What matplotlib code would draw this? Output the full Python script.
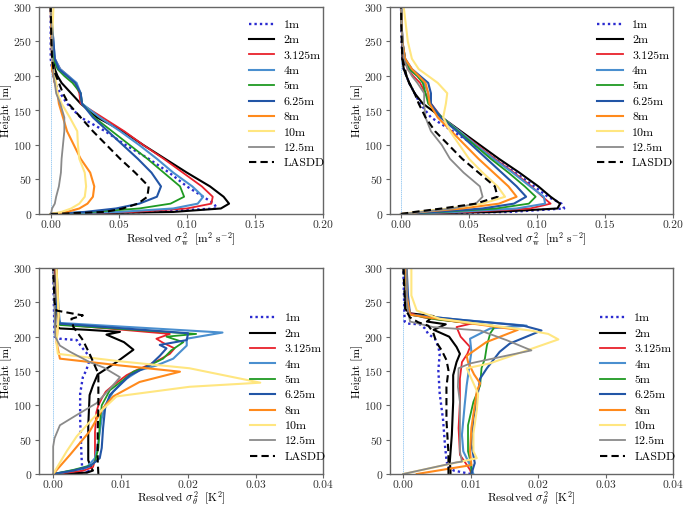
import matplotlib
matplotlib.use("Agg")
import matplotlib.pyplot as plt

plt.rcParams.update({
    "font.family": "serif",
    "font.serif": ["cmr10"],
    "mathtext.fontset": "cm",
    "axes.formatter.use_mathtext": True,
    "font.size": 8.3,
    "axes.unicode_minus": False,
})

# ---------------- data ----------------
labels = ["1m", "2m", "3.125m", "4m", "5m", "6.25m", "8m", "10m", "12.5m", "LASDD"]

# shared height grid for the sigma_w^2 panels (m)
H_TOP = [0, 3, 8, 15, 25, 40, 60, 80, 100, 120, 140, 160, 175, 190, 200, 210, 225, 250, 300]

# top-left panel: resolved sigma_w^2 (m2 s-2)
tl_1m    = [0, 0.07, 0.122, 0.120, 0.112, 0.100, 0.087, 0.072, 0.055, 0.040, 0.022, 0.012, 0.007, 0.003, 0.002, 0.001, 0.0, 0.0, 0.0]
tl_2m    = [0, 0.09, 0.125, 0.131, 0.127, 0.117, 0.100, 0.084, 0.068, 0.053, 0.034, 0.022, 0.015, 0.008, 0.005, 0.003, 0.002, 0.001, 0.0]
tl_3125m = [0, 0.06, 0.100, 0.118, 0.119, 0.111, 0.097, 0.083, 0.068, 0.054, 0.038, 0.022, 0.021, 0.018, 0.013, 0.007, 0.003, 0.001, 0.0]
tl_4m    = [0, 0.05, 0.090, 0.108, 0.112, 0.104, 0.090, 0.078, 0.065, 0.051, 0.036, 0.023, 0.022, 0.019, 0.013, 0.007, 0.003, 0.002, 0.0]
tl_5m    = [0, 0.03, 0.065, 0.088, 0.098, 0.095, 0.083, 0.071, 0.058, 0.045, 0.032, 0.023, 0.022, 0.016, 0.010, 0.005, 0.002, 0.001, 0.0]
tl_625m  = [0, 0.025, 0.048, 0.065, 0.078, 0.081, 0.074, 0.064, 0.053, 0.042, 0.031, 0.023, 0.022, 0.018, 0.012, 0.006, 0.003, 0.002, 0.0]
tl_8m    = [0, 0.012, 0.021, 0.027, 0.031, 0.032, 0.029, 0.022, 0.017, 0.012, 0.009, 0.006, 0.005, 0.003, 0.002, 0.001, 0.001, 0.0005, 0.0]
tl_10m   = [0, 0.008, 0.015, 0.021, 0.025, 0.026, 0.025, 0.021, 0.020, 0.0195, 0.014, 0.008, 0.005, 0.004, 0.003, 0.002, 0.001, 0.001, 0.002]
tl_125m  = [0, 0.0005, 0.001, 0.003, 0.004, 0.006, 0.0075, 0.008, 0.009, 0.010, 0.010, 0.007, 0.004, 0.003, 0.002, 0.002, 0.001, 0.001, 0.0]
tl_lasdd = [0, 0.040, 0.053, 0.064, 0.071, 0.072, 0.062, 0.051, 0.041, 0.031, 0.022, 0.013, 0.009, 0.006, 0.004, 0.002, 0.001, 0.0005, 0.0]

# top-right panel: resolved sigma_w^2 (m2 s-2)
tr_1m    = [0, 0.08, 0.120, 0.118, 0.108, 0.098, 0.084, 0.069, 0.054, 0.038, 0.022, 0.014, 0.010, 0.006, 0.004, 0.002, 0.001, 0.0005, 0.0]
tr_2m    = [0, 0.07, 0.115, 0.117, 0.110, 0.101, 0.087, 0.072, 0.058, 0.044, 0.030, 0.016, 0.010, 0.006, 0.004, 0.002, 0.001, 0.001, 0.0]
tr_3125m = [0, 0.05, 0.095, 0.110, 0.104, 0.096, 0.083, 0.069, 0.056, 0.043, 0.030, 0.022, 0.018, 0.014, 0.009, 0.005, 0.002, 0.001, 0.0]
tr_4m    = [0, 0.04, 0.085, 0.106, 0.105, 0.095, 0.082, 0.068, 0.055, 0.043, 0.030, 0.021, 0.020, 0.017, 0.012, 0.006, 0.003, 0.001, 0.0]
tr_5m    = [0, 0.03, 0.070, 0.094, 0.099, 0.091, 0.079, 0.066, 0.054, 0.042, 0.030, 0.020, 0.018, 0.016, 0.012, 0.006, 0.003, 0.001, 0.0]
tr_625m  = [0, 0.025, 0.060, 0.083, 0.092, 0.085, 0.074, 0.063, 0.052, 0.041, 0.029, 0.022, 0.022, 0.020, 0.014, 0.008, 0.003, 0.001, 0.0]
tr_8m    = [0, 0.015, 0.045, 0.072, 0.085, 0.079, 0.068, 0.057, 0.047, 0.037, 0.027, 0.021, 0.020, 0.018, 0.013, 0.008, 0.003, 0.001, 0.0]
tr_10m   = [0, 0.012, 0.035, 0.060, 0.0765, 0.071, 0.060, 0.050, 0.043, 0.036, 0.031, 0.033, 0.034, 0.027, 0.020, 0.013, 0.008, 0.005, 0.002]
tr_125m  = [0, 0.015, 0.038, 0.055, 0.060, 0.058, 0.046, 0.036, 0.030, 0.022, 0.018, 0.017, 0.017, 0.012, 0.008, 0.005, 0.002, 0.001, 0.0]
tr_lasdd = [0, 0.010, 0.030, 0.055, 0.071, 0.069, 0.057, 0.045, 0.035, 0.025, 0.018, 0.013, 0.010, 0.006, 0.004, 0.003, 0.001, 0.0005, 0.0]

# bottom-left panel: resolved sigma_theta^2 (K2), (value, height) pairs
bl_1m    = [(0, 0), (0.0055, 3), (0.0043, 8), (0.0042, 26), (0.0040, 79), (0.0040, 117), (0.0044, 141), (0.0049, 151), (0.0054, 166), (0.0054, 171), (0.0042, 185), (0.0035, 195), (0.0010, 197), (0.0002, 200), (0.0001, 250), (0, 300)]
bl_2m    = [(0, 0), (0.0050, 2), (0.0059, 5), (0.0056, 10), (0.0052, 20), (0.0052, 70), (0.0054, 115), (0.0059, 129), (0.0066, 145), (0.0094, 163), (0.0119, 181), (0.0105, 192), (0.0079, 203), (0.0099, 207), (0.0050, 210), (0.0010, 212), (0.0003, 216), (0.0004, 250), (0.0003, 300)]
bl_3125m = [(0, 0), (0.0020, 2), (0.0045, 5), (0.0059, 10), (0.0062, 20), (0.0062, 60), (0.0064, 90), (0.0067, 100), (0.0072, 110), (0.0078, 120), (0.0090, 130), (0.0109, 144), (0.0123, 151), (0.0135, 156), (0.0155, 165), (0.0173, 175), (0.0180, 183), (0.0163, 191), (0.0153, 197), (0.0173, 204), (0.0010, 218), (0.0005, 240), (0.0003, 300)]
bl_4m    = [(0, 0), (0.0010, 1.5), (0.0049, 9), (0.0062, 23), (0.0067, 47), (0.0072, 81), (0.0077, 100), (0.0089, 120), (0.0109, 139), (0.0128, 151), (0.0153, 158), (0.0178, 168), (0.0198, 187), (0.0198, 197), (0.0251, 206), (0.0010, 220), (0.0008, 240), (0.0005, 300)]
bl_5m    = [(0, 0), (0.0030, 6), (0.0057, 13), (0.0062, 18), (0.0067, 38), (0.0069, 71), (0.0072, 100), (0.0084, 122), (0.0104, 137), (0.0119, 149), (0.0138, 156), (0.0163, 168), (0.0175, 180), (0.0193, 192), (0.0168, 200), (0.0212, 204), (0.0010, 217), (0.0005, 240), (0.0005, 300)]
bl_625m  = [(0, 0), (0.0030, 5), (0.0054, 11), (0.0069, 23), (0.0072, 38), (0.0074, 67), (0.0077, 96), (0.0084, 115), (0.0099, 130), (0.0114, 144), (0.0143, 158), (0.0158, 172), (0.0168, 183), (0.0158, 188), (0.0198, 195), (0.0200, 205), (0.0010, 219), (0.0005, 240), (0.0005, 300)]
bl_8m    = [(0, 0), (0.0025, 28), (0.0054, 62), (0.0074, 96), (0.0089, 113), (0.0128, 134), (0.0188, 149), (0.0100, 158), (0.0010, 168), (0.0005, 192), (0.0008, 230), (0.0005, 300)]
bl_10m   = [(0, 0), (0.0006, 10), (0.0020, 33), (0.0035, 55), (0.0059, 81), (0.0094, 113), (0.0202, 127), (0.0307, 133), (0.0202, 154), (0.0100, 164), (0.0007, 175), (0.0005, 190), (0.0008, 230), (0.0005, 300)]
bl_125m  = [(0, 0), (0, 40), (0.0002, 52), (0.0010, 71), (0.0035, 86), (0.0064, 103), (0.0085, 125), (0.0099, 141), (0.0075, 155), (0.0054, 163), (0.0025, 178), (0.0010, 187), (0.0003, 200), (0.0002, 250), (0, 300)]
bl_lasdd = [(0.0067, 0), (0.0066, 20), (0.0066, 60), (0.0067, 100), (0.0067, 146), (0.0054, 175), (0.0044, 195), (0.0030, 214), (0.0027, 226), (0.0044, 231), (0.0005, 238), (0.0002, 250), (0, 300)]

# bottom-right panel: resolved sigma_theta^2 (K2), (value, height) pairs
br_1m    = [(0.0100, 0), (0.0090, 2), (0.0075, 5), (0.0066, 10), (0.0064, 21), (0.0062, 40), (0.0059, 79), (0.0054, 117), (0.0052, 151), (0.0054, 175), (0.0052, 185), (0.0047, 197), (0.0037, 204), (0.0032, 212), (0.0025, 218), (0.0007, 219), (0.0002, 222), (0, 300)]
br_2m    = [(0.0070, 0), (0.0070, 5), (0.0069, 18), (0.0072, 57), (0.0074, 105), (0.0074, 144), (0.0079, 163), (0.0084, 175), (0.0079, 185), (0.0068, 200), (0.0045, 210), (0.0063, 218), (0.0035, 222), (0.0045, 230), (0.0010, 234), (0.0003, 240), (0.0003, 300)]
br_3125m = [(0.0101, 0), (0.0099, 6), (0.0091, 18), (0.0084, 28), (0.0082, 67), (0.0084, 105), (0.0084, 139), (0.0087, 163), (0.0095, 175), (0.0099, 185), (0.0085, 200), (0.0079, 214), (0.0101, 219), (0.0030, 228), (0.0008, 235), (0.0005, 260), (0.0004, 300)]
br_4m    = [(0.0104, 0), (0.0099, 13), (0.0089, 33), (0.0087, 57), (0.0091, 100), (0.0094, 129), (0.0101, 178), (0.0099, 197), (0.0129, 212), (0.0183, 216), (0.0080, 225), (0.0010, 232), (0.0005, 260), (0.0004, 300)]
br_5m    = [(0.0101, 0), (0.0101, 13), (0.0096, 33), (0.0096, 71), (0.0104, 105), (0.0114, 129), (0.0116, 154), (0.0121, 168), (0.0124, 187), (0.0129, 205), (0.0134, 212), (0.0133, 216), (0.0050, 225), (0.0010, 232), (0.0005, 260), (0.0004, 300)]
br_625m  = [(0.0101, 0), (0.0106, 16), (0.0101, 43), (0.0104, 81), (0.0111, 120), (0.0114, 139), (0.0124, 154), (0.0143, 178), (0.0158, 190), (0.0205, 209), (0.0178, 216), (0.0080, 225), (0.0010, 232), (0.0007, 260), (0.0005, 300)]
br_8m    = [(0.0020, 0), (0.0101, 13), (0.0099, 33), (0.0101, 67), (0.0109, 120), (0.0114, 132), (0.0105, 145), (0.0096, 163), (0.0094, 172), (0.0123, 192), (0.0170, 210), (0.0080, 222), (0.0010, 232), (0.0005, 260), (0.0004, 300)]
br_10m   = [(0, 0), (0.0109, 23), (0.0104, 33), (0.0104, 59), (0.0109, 93), (0.0111, 117), (0.0094, 154), (0.0128, 161), (0.0230, 196), (0.0215, 204), (0.0188, 209), (0.0054, 226), (0.0020, 238), (0.0012, 260), (0.0012, 300)]
br_125m  = [(0, 0), (0.0079, 17), (0.0087, 18), (0.0084, 33), (0.0084, 81), (0.0084, 105), (0.0081, 127), (0.0082, 154), (0.0099, 161), (0.0190, 180), (0.0153, 195), (0.0114, 209), (0.0044, 214), (0.0010, 222), (0.0005, 250), (0.0005, 300)]
br_lasdd = [(0.0067, 0), (0.0067, 30), (0.0064, 79), (0.0064, 127), (0.0067, 151), (0.0064, 166), (0.0057, 180), (0.0049, 192), (0.0044, 207), (0.0037, 216), (0.0022, 221), (0.0010, 228), (0.0003, 240), (0, 300)]

w_ticks = [0.00, 0.05, 0.10, 0.15, 0.20]
t_ticks = [0.00, 0.01, 0.02, 0.03, 0.04]
h_ticks = [0, 50, 100, 150, 200, 250, 300]

# ---------------- style ----------------
colors = ["#2b2bd0", "black", "#e8212b", "#4a8fcf", "#1f9a22", "#2255a6",
          "#ff8a1c", "#ffe680", "#8a8a8a", "black"]
styles = [(0, (1, 1.3)), "-", "-", "-", "-", "-", "-", "-", "-", (0, (3.5, 2))]
widths = [1.7, 1.5, 1.3, 1.5, 1.3, 1.5, 1.5, 1.5, 1.3, 1.5]
spine_col = "#666666"

fig = plt.figure(figsize=(6.85, 5.08), dpi=100)
W, Hf = 685.0, 508.0
boxes = [(39, 7, 323, 214), (390, 7, 673, 214), (39, 268, 323, 474), (390, 268, 673, 474)]
axes = []
for (x0, y0, x1, y1) in boxes:
    axes.append(fig.add_axes([x0 / W, 1 - y1 / Hf, (x1 - x0) / W, (y1 - y0) / Hf]))

top_sets = [
    [tl_1m, tl_2m, tl_3125m, tl_4m, tl_5m, tl_625m, tl_8m, tl_10m, tl_125m, tl_lasdd],
    [tr_1m, tr_2m, tr_3125m, tr_4m, tr_5m, tr_625m, tr_8m, tr_10m, tr_125m, tr_lasdd],
]
bot_sets = [
    [bl_1m, bl_2m, bl_3125m, bl_4m, bl_5m, bl_625m, bl_8m, bl_10m, bl_125m, bl_lasdd],
    [br_1m, br_2m, br_3125m, br_4m, br_5m, br_625m, br_8m, br_10m, br_125m, br_lasdd],
]

w_label = r"Resolved $\sigma^2_{\mathrm{w}}\ \ [\mathrm{m}^2\ \mathrm{s}^{-2}]$"
t_label = r"Resolved $\sigma^2_{\theta}\ \ [\mathrm{K}^2]$"

def style_axes(ax, xticks, xlim, xlabel, ticklabels, lpad):
    ax.set_xlim(*xlim)
    ax.set_ylim(0, 300)
    ax.set_xticks(xticks)
    ax.set_xticklabels(ticklabels)
    ax.set_yticks(h_ticks)
    ax.set_xlabel(xlabel, labelpad=lpad)
    ax.set_ylabel("Height [m]", labelpad=1)
    for s in ax.spines.values():
        s.set_color(spine_col)
        s.set_linewidth(1.0)
    ax.tick_params(colors="#333333", length=3, width=0.8, pad=1.8, labelsize=8.3)
    ax.tick_params(axis="both", color=spine_col)

legend_pos = [(0.718, 0.58), (0.712, 0.58), (0.722, 0.42), (0.720, 0.42)]

for i, ax in enumerate(axes):
    ax.axvline(0, color="#9fcdf2", lw=0.7, ls=(0, (1.5, 0.7)), zorder=1)
    if i < 2:
        series = top_sets[i]
        for k, vals in enumerate(series):
            ax.plot(vals, H_TOP, color=colors[k], ls=styles[k], lw=widths[k], label=labels[k])
        xl = (-0.0086, 0.20) if i == 0 else (-0.0081, 0.20)
        style_axes(ax, w_ticks, xl, w_label, ["0.00", "0.05", "0.10", "0.15", "0.20"], 0)
    else:
        series = bot_sets[i - 2]
        for k, pts in enumerate(series):
            xs = [p[0] for p in pts]
            zs = [p[1] for p in pts]
            ax.plot(xs, zs, color=colors[k], ls=styles[k], lw=widths[k], label=labels[k])
        xl = (-0.0021, 0.04) if i == 2 else (-0.00197, 0.04)
        style_axes(ax, t_ticks, xl, t_label, ["0.00", "0.01", "0.02", "0.03", "0.04"], -0.5)
    ax.legend(loc="center left", bbox_to_anchor=legend_pos[i], frameon=False,
              borderpad=0, handlelength=2.1, handletextpad=0.8,
              labelspacing=0.42, fontsize=8.6)

fig.savefig("out.png", dpi=100)
